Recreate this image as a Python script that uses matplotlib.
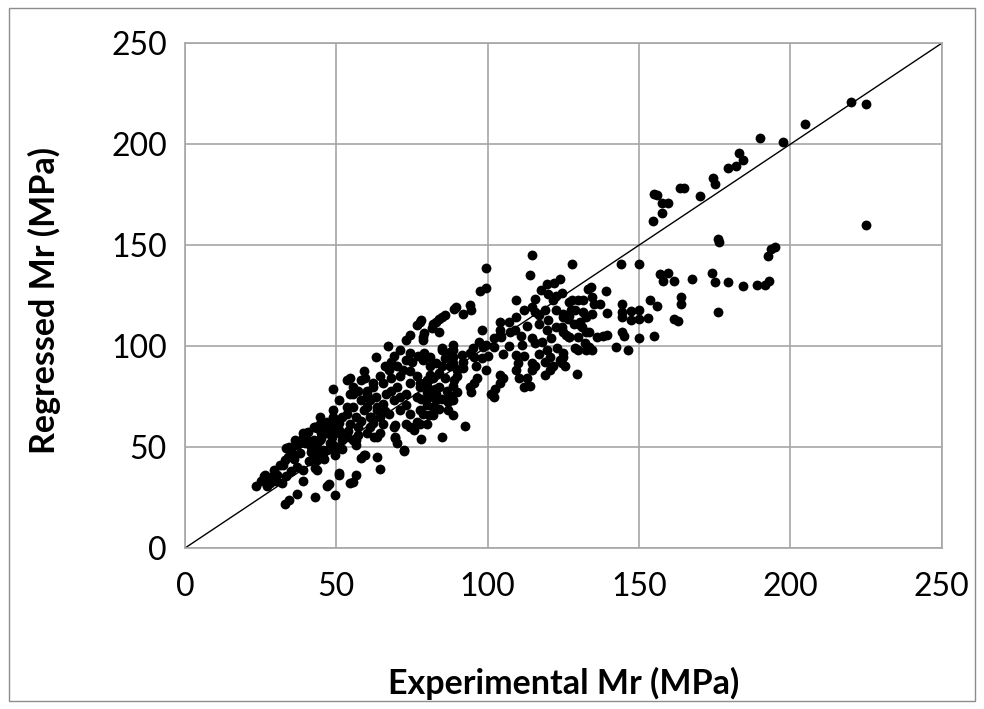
import matplotlib
matplotlib.use("Agg")
import matplotlib.pyplot as plt
from matplotlib.patches import Rectangle

# experimental vs regressed resilient modulus (MPa)
points = [
    (220, 221), (225, 220), (205, 210), (190, 203), (197.5, 201), (183, 195.5), (184.5, 192),
    (179.5, 188), (182, 189), (174.5, 183.5), (175, 180.5), (170, 174.5), (225, 160),
    (176, 153), (176.5, 151.5), (195, 149), (193.5, 148), (192.5, 144.5), (174, 136), (175, 132),
    (179.5, 132), (184.5, 130), (189, 130.5), (191.5, 130.5), (193, 132.5), (176, 117),
    (163.5, 178.5), (165, 178.5), (155, 175.5), (156, 175), (157.5, 171), (159.5, 171),
    (157.5, 166), (154.5, 162), (144, 140.5), (150, 140.5), (128, 140.5),
    (157, 135.5), (159.5, 136), (158, 132.5), (161.5, 132.5), (167.5, 133),
    (124, 133), (134, 129.5), (133, 128.5), (139, 127.5), (124.5, 126.5), (127, 122), (130, 123),
    (135, 121), (137, 121), (131.5, 117), (127.5, 118), (139.5, 116.5), (144.5, 121), (144.5, 117),
    (147.5, 117.5), (150, 118), (153.5, 123), (156, 120), (164, 124.5), (164, 121), (161.5, 113.5),
    (163, 112.5), (144.5, 114.5), (147.5, 113), (150, 113.5), (153, 114), (125, 114.5),
    (124.5, 109.5), (130.5, 112), (131, 109.5), (133.5, 107), (138, 105), (139.5, 105.5),
    (144.5, 107), (145, 105), (150, 104), (155, 105), (127, 104.5), (126, 105.5), (132, 101.5),
    (133.5, 99.5), (130, 98), (132.5, 98), (142.5, 99.5), (146.5, 98), (125, 96.5), (124.5, 91.5),
    (125.5, 90), (129.5, 86),
    (99.5, 138.5), (97.5, 127.5), (99.5, 129), (114, 135), (114.5, 145), (122, 131.5), (119.5, 131),
    (117.5, 128), (109.5, 123), (115.5, 123.5), (120, 126), (122.5, 125), (121.5, 123), (128, 123),
    (131.5, 123), (134.5, 124.5), (89.5, 119.5), (94, 120.5), (92, 116), (94.5, 118), (86, 115.5),
    (84, 113.5), (82, 111), (78, 113), (79, 106.5), (78.5, 103), (84, 107), (109.5, 114.5),
    (104, 112), (104, 108), (107.5, 107), (109, 108), (114.5, 119.5), (115.5, 117), (117, 115.5),
    (119, 118), (122.5, 118), (125, 116), (126.5, 113.5), (128.5, 111), (130.5, 110.5),
    (132.5, 114.5), (134.5, 116), (119.5, 108), (122.5, 109.5), (125, 107), (127, 104.5),
    (130, 104.5), (132.5, 107), (136, 104.5), (114.5, 104), (115.5, 101.5), (111.5, 100.5),
    (119.5, 98), (120.5, 94.5), (123, 99), (125, 94.5), (129, 99), (134.5, 98),
    (109.5, 95.5), (110, 91.5), (109.5, 88), (114.5, 91.5), (114.5, 88), (115.5, 90), (119, 92),
    (120.5, 88), (119, 85.5), (121.5, 90), (124, 93), (110.5, 84), (113, 84), (112, 80), (114, 80.5),
    (104, 85.5), (105, 84), (104, 81.5), (102.5, 79), (102, 75), (101, 76.5), (104.5, 104.5),
    (104, 105.5), (99.5, 88), (99.5, 100.5), (102, 99.5), (98.5, 99.5), (97, 102), (95, 99),
    (94, 96.5), (95.5, 94.5), (88.5, 100.5), (87.5, 97), (85, 99), (88.5, 94.5), (86, 94),
    (91.5, 95.5), (81, 94.5), (78.5, 93), (81, 90), (83, 91.5), (85, 90), (84, 86.5), (81, 85.5),
    (88.5, 91.5), (90, 88), (92, 89), (96.5, 84), (94, 80), (95.5, 81.5), (94.5, 77.5), (88.5, 80.5),
    (90, 77.5), (87.5, 75.5), (77.5, 80), (80, 80.5), (82.5, 79), (80.5, 75), (83, 73.5), (85, 74),
    (87, 72.5), (80, 71), (82, 70), (84, 69), (78.5, 66.5), (80.5, 66), (77.5, 61.5), (92.5, 60.5),
    (85, 55), (78, 54), (69.5, 54.5), (72.5, 48), (64.5, 39), (69.5, 61), (74.5, 60), (76.5, 62.5),
    (64.5, 57),
    (89, 118.5), (85, 114.5), (83, 112), (81.5, 109), (77.5, 112), (76.5, 110.5), (74.5, 105.5),
    (73, 103), (78.5, 104.5), (67, 100), (63, 94.5), (79, 96.5), (74.5, 96.5), (73, 93), (85, 98),
    (88.5, 98), (68, 92), (70, 90), (67.5, 88), (64.5, 85), (65.5, 81.5), (62, 81.5), (59, 87.5),
    (59.5, 84), (54.5, 84), (49, 79), (55.5, 76.5), (57, 78), (60, 78), (71, 85), (74.5, 87.5),
    (76.5, 85), (77.5, 81.5), (80, 83), (74.5, 81.5), (87.5, 90), (89, 83), (66.5, 76.5), (69, 73.5),
    (71, 75), (65.5, 71.5), (73, 76.5), (76.5, 75), (80, 77.5), (83, 76.5), (86.5, 78), (88.5, 73.5),
    (61, 73.5), (63.5, 70), (59, 68.5), (61.5, 65), (64.5, 65), (67.5, 66.5), (71, 68.5),
    (74.5, 66.5), (77.5, 68.5), (51, 73.5), (53.5, 70), (49, 68.5), (52, 65), (54.5, 61.5),
    (56.5, 65), (44.5, 65), (43, 60), (40, 57), (38.5, 53.5), (41, 52), (44.5, 53.5), (47, 57),
    (56.5, 53.5), (60, 57), (63.5, 55), (69.5, 55), (70, 52), (72.5, 48.5), (59, 46), (61, 60),
    (65.5, 61.5), (69, 60), (73, 61.5), (75.5, 58.5), (80, 61.5), (82, 66), (87, 68.5), (88.5, 66),
    (53.5, 83), (58, 83), (43.5, 59.5), (45.5, 61), (39, 57), (40, 54.5), (38, 52), (34.5, 50),
    (35.5, 47), (33, 43.5), (31.5, 41), (29.5, 38.5), (29, 35.5), (26, 35.5), (25, 33), (23.5, 30.5),
    (27, 30.5), (32, 32), (33.5, 35.5), (35, 38), (39, 38.5), (43, 39.5), (43.5, 38.5), (39, 33),
    (37, 27), (34.5, 24), (33, 22), (43, 25.5), (47, 30.5), (47.5, 31.5), (49.5, 26.5), (51, 36),
    (55.5, 32.5), (56.5, 36), (58, 44.5), (59.5, 46), (56.5, 51), (55.5, 53.5), (62.5, 55),
    (49.5, 46), (48, 49.5), (49, 51), (44.5, 47), (43.5, 43.5), (45.5, 48.5), (51, 62), (53.5, 66.5),
    (55.5, 70), (58, 73.5), (60, 76.5), (62, 80), (54.5, 76.5), (55.5, 80), (61, 65), (63.5, 68.5),
    (51, 57), (53.5, 55), (49, 65), (47, 58.5), (42.5, 53.5), (41.5, 50), (63.5, 45),
    (26, 33.5), (26.5, 36), (30.5, 36), (32.5, 41), (34, 45), (35, 47.5), (37, 51), (39, 55),
    (40.5, 57.5), (42.5, 60), (44.5, 61.5), (47, 62.5), (49, 61), (51, 58.5), (52, 53.5), (50, 50),
    (47, 48.5), (43.5, 50), (41.5, 47.5), (38, 47), (33.5, 49.5), (36.5, 53.5), (39.5, 52),
    (45, 54.5), (48.5, 55), (45.5, 47), (43, 45), (48, 52), (54.5, 32), (51, 37),
    # extra points filling the densest part of the cloud
    (66, 90), (69, 95), (71, 98), (72, 88), (75, 92), (77, 95), (70, 80), (68, 84), (73, 71),
    (78, 74), (82, 84), (84, 80), (86, 84), (90, 85), (92, 92), (96, 90), (98, 94), (100, 95),
    (58, 63), (60, 70), (57, 60), (62, 62), (66, 68), (68, 78), (63, 75), (57, 56), (54, 58),
    (52, 49), (46, 44), (41, 43), (37, 40), (36, 44), (30, 33), (28, 32), (45, 57), (48, 58),
    (105, 96), (107, 100), (112, 95), (117, 96), (118, 102), (121, 104), (113, 110), (111, 105),
    (117, 111), (120, 113), (127, 115), (129, 118), (112, 118), (107, 112), (102, 104), (98, 108),
]
experimental = [p[0] for p in points]
regressed = [p[1] for p in points]

ticks = [0, 50, 100, 150, 200, 250]

plt.rcParams["font.family"] = ["Lato", "DejaVu Sans"]

fig = plt.figure(figsize=(9.84, 7.09), dpi=100)
ax = fig.add_axes([0.188, 0.227, 0.769, 0.712])

ax.scatter(experimental, regressed, s=50, color="black", linewidths=0, zorder=3)
ax.plot([0, 250], [0, 250], color="black", linewidth=1.0, zorder=2)

ax.set_xlim(0, 250)
ax.set_ylim(0, 250)
ax.set_xticks(ticks)
ax.set_yticks(ticks)
ax.grid(True, color="#a6a6a6", linewidth=1.2)
ax.set_axisbelow(True)
for sp in ax.spines.values():
    sp.set_color("#a6a6a6")
    sp.set_linewidth(1.2)
ax.tick_params(axis="both", length=0, labelsize=23)
ax.tick_params(axis="x", pad=17)
ax.tick_params(axis="y", pad=13)

ax.set_xlabel("Experimental Mr (MPa)", fontsize=24.5, fontweight="bold", va="center")
ax.xaxis.set_label_coords(0.5, -0.268)
ax.set_ylabel("Regressed Mr (MPa)", fontsize=24.5, fontweight="bold", va="center")
ax.yaxis.set_label_coords(-0.186, 0.49)

fig.patches.append(Rectangle((0.009, 0.011), 0.982, 0.978, transform=fig.transFigure,
                             fill=False, edgecolor="#8c8c8c", linewidth=1.0))

fig.savefig("out.png", dpi=100)
